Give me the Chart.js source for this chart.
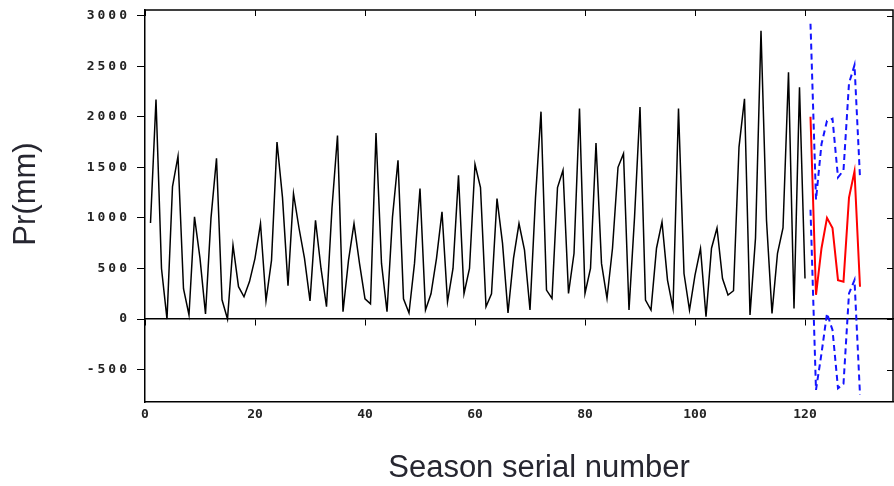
<!DOCTYPE html>
<html>
<head>
<meta charset="utf-8">
<script src="https://cdn.jsdelivr.net/npm/chart.js@4/dist/chart.umd.min.js"></script>
<style>
  html, body { margin: 0; padding: 0; background: #fff; }
</style>
</head>
<body>
<canvas id="prChart" width="894" height="486"></canvas>
<script>
// observed seasonal precipitation, seasons 1..120
const seasons = Array.from({ length: 120 }, (_, i) => i + 1);
const observed = [
  950, 2170, 500, 0, 1310, 1610, 300, 40, 1010, 600,
  50, 1000, 1590, 190, 0, 730, 320, 220, 370, 600,
  944, 180, 580, 1750, 1200, 330, 1240, 900, 600, 180,
  977, 500, 122, 1100, 1815, 72, 580, 944, 550, 200,
  150, 1840, 550, 72, 1010, 1570, 200, 60, 550, 1290,
  89, 250, 600, 1060, 171, 500, 1420, 250, 500, 1530,
  1300, 122, 250, 1190, 750, 60, 600, 944, 681, 89,
  1200, 2050, 286, 204, 1300, 1470, 253, 648, 2080, 253,
  500, 1740, 550, 204, 700, 1500, 1635, 89, 1000, 2095,
  187, 89, 700, 960, 385, 105, 2080, 450, 89, 434,
  697, 23, 700, 900, 400, 237, 280, 1700, 2178, 40,
  800, 2850, 977, 56, 650, 900, 2440, 105, 2290, 400
];

// forecast and its bounds
const forecastSeasons = [121, 122, 123, 124, 125, 126, 127, 128, 129, 130];
const forecast = [2000, 240, 700, 1000, 900, 385, 370, 1200, 1460, 320];
const upper = [2920, 1180, 1730, 1960, 1980, 1400, 1470, 2330, 2510, 1400];
const lower = [1080, -700, -340, 56, -108, -684, -640, 253, 385, -750];

const xTicks = [0, 20, 40, 60, 80, 100, 120];
const yTicks = [-500, 0, 500, 1000, 1500, 2000, 2500, 3000];

const toPoints = (xs, ys) => xs.map((x, i) => ({ x: x, y: ys[i] }));
const tickFont = { family: '"DejaVu Sans Mono"', size: 13, weight: 'bold' };

// frame, inward ticks, spaced y labels and axis titles
const decor = {
  id: 'decor',
  afterDraw(chart) {
    const { ctx, chartArea: a } = chart;
    const x = chart.scales.x, y = chart.scales.y;
    ctx.save();
    ctx.strokeStyle = '#000';
    ctx.lineWidth = 1.5;
    ctx.beginPath();
    ctx.moveTo(a.left, a.top);
    ctx.lineTo(a.right, a.top);
    ctx.lineTo(a.right, a.bottom);
    ctx.stroke();

    ctx.lineWidth = 1;
    ctx.beginPath();
    xTicks.forEach(v => {
      const px = Math.round(x.getPixelForValue(v)) + 0.5;
      ctx.moveTo(px, a.top);
      ctx.lineTo(px, a.top + 6);
    });
    yTicks.forEach(v => {
      const py = Math.round(y.getPixelForValue(v)) + 0.5;
      ctx.moveTo(a.right, py);
      ctx.lineTo(a.right - 6, py);
    });
    ctx.stroke();

    ctx.fillStyle = '#222';
    ctx.font = 'bold 13px "DejaVu Sans Mono"';
    ctx.letterSpacing = '3px';
    ctx.textAlign = 'right';
    ctx.textBaseline = 'middle';
    yTicks.forEach(v => ctx.fillText(String(v), a.left - 15, y.getPixelForValue(v)));

    ctx.letterSpacing = '0px';
    ctx.fillStyle = '#262630';
    ctx.font = '31px "Liberation Sans"';
    ctx.textAlign = 'center';
    ctx.fillText('Season serial number', 539, 468);
    ctx.translate(26, 194);
    ctx.rotate(-Math.PI / 2);
    ctx.fillText('Pr(mm)', 0, 0);
    ctx.restore();
  }
};

new Chart(document.getElementById('prChart'), {
  type: 'line',
  data: {
    datasets: [{
      label: 'Observed',
      data: toPoints(seasons, observed),
      borderColor: '#000',
      borderWidth: 1.5,
      pointRadius: 0,
      tension: 0,
      fill: false
    }, {
      label: 'Forecast',
      data: toPoints(forecastSeasons, forecast),
      borderColor: '#ff0000',
      borderWidth: 2,
      pointRadius: 0,
      tension: 0,
      fill: false
    }, {
      label: 'Upper',
      data: toPoints(forecastSeasons, upper),
      borderColor: '#1414ff',
      borderWidth: 2,
      borderDash: [6, 4],
      pointRadius: 0,
      tension: 0,
      fill: false
    }, {
      label: 'Lower',
      data: toPoints(forecastSeasons, lower),
      borderColor: '#1414ff',
      borderWidth: 2,
      borderDash: [6, 4],
      pointRadius: 0,
      tension: 0,
      fill: false
    }]
  },
  options: {
    responsive: false,
    animation: false,
    devicePixelRatio: 1,
    layout: { padding: { top: 10, right: 1 } },
    plugins: { legend: { display: false }, tooltip: { enabled: false } },
    scales: {
      x: {
        type: 'linear',
        min: 0,
        max: 136,
        afterBuildTicks: s => { s.ticks = xTicks.map(v => ({ value: v })); },
        afterFit: s => { s.height = 84; },
        grid: { drawOnChartArea: false, drawTicks: false },
        border: { color: '#000', width: 1.5 },
        ticks: { color: '#222', font: tickFont, padding: 5, maxRotation: 0, autoSkip: false }
      },
      zero: {
        type: 'linear',
        axis: 'x',
        position: { y: 0 },
        min: 0,
        max: 136,
        afterBuildTicks: s => { s.ticks = xTicks.map(v => ({ value: v })); },
        grid: { drawOnChartArea: false, drawTicks: true, tickLength: 6, color: '#000' },
        border: { color: '#000', width: 1.5 },
        ticks: { display: false }
      },
      y: {
        min: -820,
        max: 3055,
        afterBuildTicks: s => { s.ticks = yTicks.map(v => ({ value: v })); },
        afterFit: s => { s.width = 145; },
        grid: { drawOnChartArea: false, drawTicks: true, tickLength: 8, color: '#000' },
        border: { color: '#000', width: 1.5 },
        ticks: { display: false }
      }
    }
  },
  plugins: [decor]
});
</script>
</body>
</html>
